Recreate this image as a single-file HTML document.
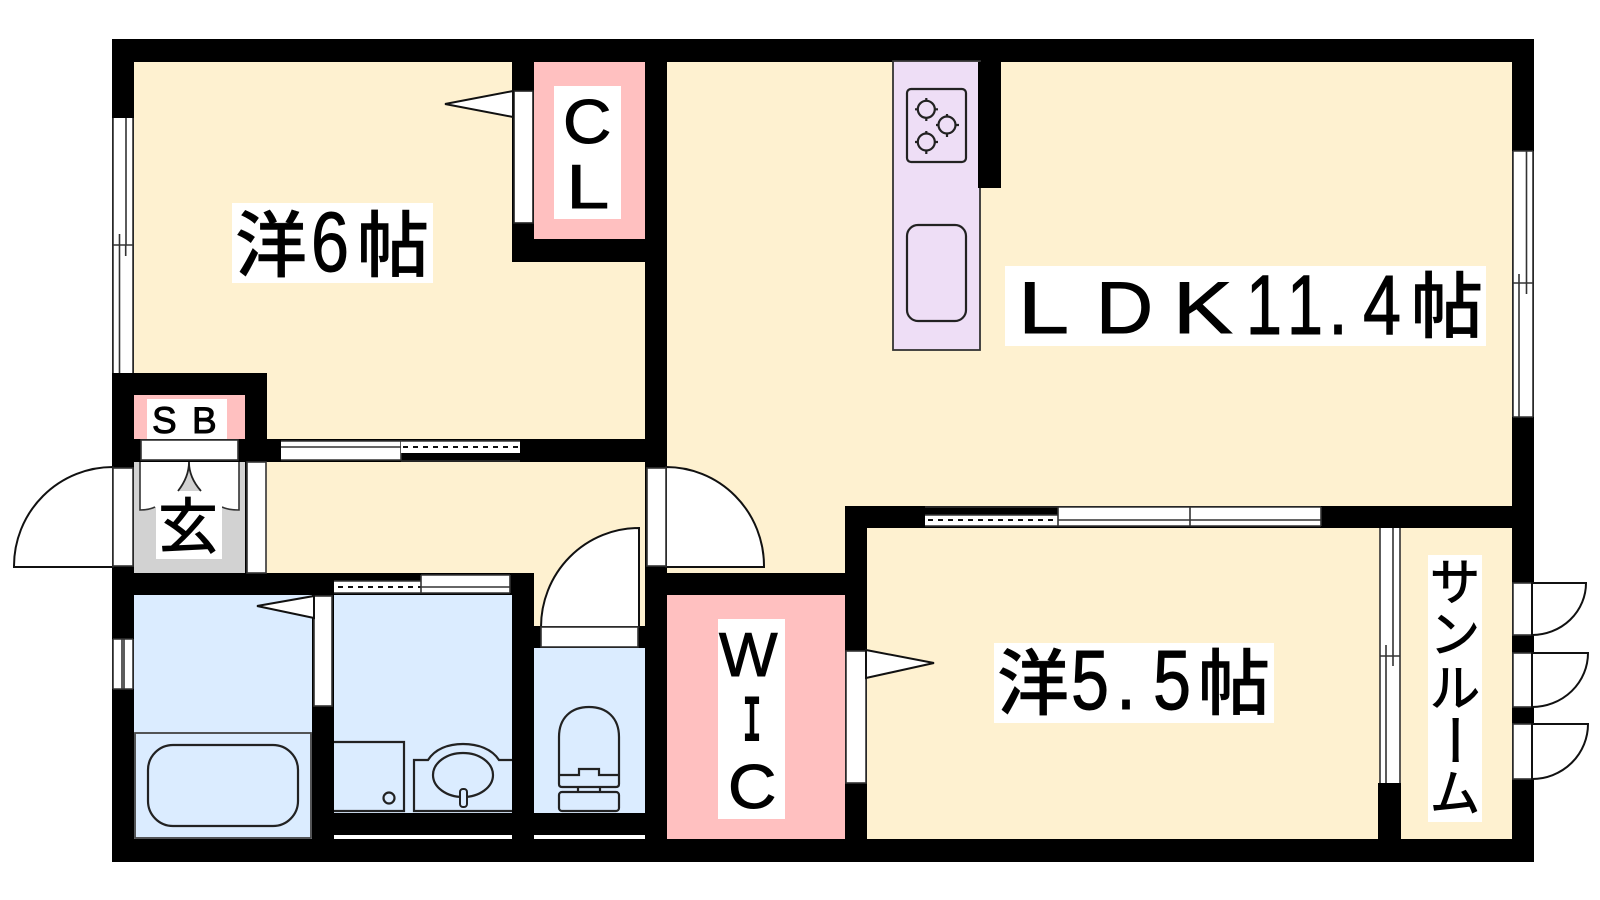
<!DOCTYPE html>
<html lang="ja"><head><meta charset="utf-8"><title>間取り図</title>
<style>
html,body{margin:0;padding:0;background:#fff}
svg{display:block}
.j{font-family:"Liberation Sans","Noto Sans CJK JP",sans-serif;font-weight:500;fill:#000;stroke:#000;stroke-width:.4px}
.k{font-family:"Liberation Sans","Noto Sans CJK JP",sans-serif;font-weight:400;fill:#000;stroke:#000;stroke-width:1px}
.l{font-family:"Liberation Sans",sans-serif;fill:#000;stroke:#000;stroke-width:1px}
.w{fill:#fff;stroke:none}
.ln{stroke:#333;stroke-width:1.6;fill:none}
.d{stroke:#111;stroke-width:2;fill:#fff}
.f{stroke:#222;stroke-width:2.2;fill:none}
</style></head><body>
<svg width="1600" height="900" viewBox="0 0 1600 900" xmlns="http://www.w3.org/2000/svg">
<rect width="1600" height="900" fill="#fff"/>
<rect x="112" y="39" width="1422" height="823" fill="#000"/>

<!-- rooms -->
<g fill="#fef1d0">
<polygon points="134,62 512,62 512,262 645,262 645,439 267,439 267,373 134,373"/>
<polygon points="667,62 1512,62 1512,506 845,506 845,573 667,573"/>
<polygon points="266,462 645,462 645,626 534,626 534,573 266,573"/>
<rect x="867" y="528" width="645" height="311"/>
</g>
<rect x="1378" y="783" width="23" height="60" fill="#000"/>
<g fill="#ffc0c0">
<rect x="534" y="62" width="111" height="177"/>
<rect x="134" y="395" width="111" height="44"/>
<rect x="667" y="595" width="178" height="244"/>
</g>
<g fill="#dbecff">
<rect x="134" y="595" width="178" height="244"/>
<rect x="334" y="595" width="178" height="218"/>
<rect x="534" y="648" width="111" height="165"/>
</g>
<rect x="134" y="462" width="111" height="111" fill="#d2d2d2"/>
<rect x="334" y="835" width="178" height="4" fill="#fff"/>
<rect x="534" y="835" width="111" height="4" fill="#fff"/>

<!-- kitchen -->
<rect x="893" y="61" width="87" height="289" fill="#eedef6" stroke="#333" stroke-width="1.8"/>
<rect x="978" y="62" width="23" height="126" fill="#000"/>
<rect x="907" y="89" width="59" height="73" rx="4" class="f"/>
<g class="f">
<circle cx="926.3" cy="109.3" r="8.5"/><path d="M926.3 98v23M915 109.3h23" stroke-dasharray="3 17"/>
<circle cx="947" cy="125" r="8.5"/><path d="M947 114v23M936 125h23" stroke-dasharray="3 17"/>
<circle cx="926.3" cy="142" r="8.5"/><path d="M926.3 131v23M915 142h23" stroke-dasharray="3 17"/>
</g>
<rect x="907" y="225" width="59" height="96" rx="11" class="f"/>

<!-- left window 6 -->
<rect x="113" y="118" width="20" height="255" fill="#fff"/>
<path class="ln" d="M113 118V373M133 118V373M126 118V245M119.5 245V373M113 245H133M119.5 234V245M125.7 245V256"/>
<!-- CL door -->
<rect x="514" y="91" width="19" height="132" fill="#fff" stroke="#222" stroke-width="1.6"/>
<polygon points="445,104 513,91 513,117" class="d"/>

<!-- SB door -->
<rect x="141" y="440" width="97" height="20" fill="#fff" stroke="#333" stroke-width="1.6"/>
<!-- hall window -->
<rect x="281" y="441" width="120" height="19" fill="#fff"/>
<path class="ln" d="M281 441H401M281 447H401M281 460H401M401 440V460"/>
<rect x="401" y="441" width="119" height="12" fill="#fff"/>
<path class="ln" d="M401 441H520"/>
<path d="M403 447H520" stroke="#111" stroke-width="2" stroke-dasharray="5 5"/>
<path class="ln" d="M401 461H520" stroke-width="1"/>

<!-- genkan shoebox -->
<path d="M140 462H239V510C232 509 226 508 222 507H156C152 508 147 510 140 510Z" fill="#fff"/>
<path class="ln" d="M140 462V510C147 510 151 509 155 507M239 462V510C232 510 226 509 222 507"/>
<path d="M178 491H201C193 482 189 472 189 462C189 472 185 482 178 491Z" fill="#d2d2d2"/>
<path d="M178 491C185 482 189 472 189 462C189 472 193 482 201 491" stroke="#222" stroke-width="1.8" fill="none"/>
<rect x="247" y="462" width="19" height="111" fill="#fff" stroke="#333" stroke-width="1.6"/>

<!-- entry door -->
<path d="M113 467A99 99 0 0 0 14 566V567H113Z" class="d"/>
<rect x="113" y="468" width="20" height="98" fill="#fff" stroke="#333" stroke-width="1.6"/>
<!-- LDK door -->
<path d="M666 467A98 99 0 0 1 764 566V567H666Z" class="d"/>
<rect x="647" y="468" width="19" height="98" fill="#fff" stroke="#333" stroke-width="1.6"/>
<!-- toilet door -->
<path d="M639 528A98 99 0 0 0 541 627H639Z" class="d"/>
<rect x="541" y="627" width="97" height="20" fill="#fff" stroke="#333" stroke-width="1.6"/>

<!-- bath -->
<rect x="135" y="733" width="176" height="105" fill="none" stroke="#444" stroke-width="1.8"/>
<rect x="148" y="745" width="150" height="81" rx="25" class="f"/>
<rect x="314" y="596" width="18" height="110" fill="#fff" stroke="#333" stroke-width="1.6"/>
<polygon points="257,606 314,596 314,618" class="d"/>
<rect x="113" y="639" width="20" height="50" fill="#fff"/>
<path class="ln" d="M113 639V689M133 639V689M122 639V689M124 639V689M113 639H133M113 689H133"/>
<!-- wash window -->
<rect x="334" y="581" width="87" height="12" fill="#fff"/>
<path class="ln" d="M334 593H421M334 581H421"/>
<path d="M338 587H421" stroke="#111" stroke-width="2" stroke-dasharray="5 5"/>
<rect x="421" y="575" width="89" height="18" fill="#fff"/>
<path class="ln" d="M421 575H510M421 587H510M421 593H510M510 575V593M421 575V593"/>
<!-- washer pan -->
<path class="f" d="M334 742H404V811H334"/>
<circle cx="389" cy="798" r="5.5" class="f"/>
<!-- basin -->
<path class="f" d="M512 760H499C492 749 478 744 463 744C448 744 435 749 428 760H414V811H512"/>
<ellipse cx="463" cy="775" rx="30" ry="22" class="f"/>
<rect x="460" y="789" width="7" height="18" rx="3" fill="#dbecff" stroke="#222" stroke-width="2"/>
<!-- toilet -->
<path class="f" d="M559 737C559 718 571 707 589 707C607 707 619 718 619 737V784Q619 787 616 787H562Q559 787 559 784Z"/>
<path class="f" d="M559 775H579V769H599V775H619"/>
<path class="f" d="M578 787V792M600 787V792"/>
<rect x="559" y="792" width="60" height="19" rx="3" class="f"/>

<!-- WIC door -->
<rect x="846" y="651" width="20" height="132" fill="#fff" stroke="#333" stroke-width="1.6"/>
<polygon points="934,663 866,650 866,678" class="d"/>
<!-- LDK/5.5 window -->
<rect x="925" y="515" width="133" height="11" fill="#fff"/>
<path class="ln" d="M925 507H1058M925 515H1058M925 526H1058"/>
<path d="M928 520H1058" stroke="#111" stroke-width="2" stroke-dasharray="5 5"/>
<rect x="1058" y="507" width="263" height="19" fill="#fff"/>
<path class="ln" d="M1058 507H1321M1058 520H1321M1058 526H1321M1058 507V526M1190 507V526M1321 507V526"/>
<!-- LDK right window -->
<rect x="1513" y="151" width="20" height="266" fill="#fff"/>
<path class="ln" d="M1513 151V417M1533 151V417M1526.5 151V283M1519 283V417M1513 283H1533M1519 274V283M1526.5 283V294M1513 151H1533M1513 417H1533"/>
<!-- sunroom window -->
<rect x="1380" y="528" width="20" height="255" fill="#fff"/>
<path class="ln" d="M1380 528V783M1400 528V783M1393 528V656M1386 656V783M1380 656H1400M1386 645V656M1393 656V666"/>
<!-- sunroom doors -->
<g>
<rect x="1513" y="583" width="19" height="52" fill="#fff" stroke="#333" stroke-width="1.6"/>
<path d="M1532 583H1586A54 52 0 0 1 1532 635Z" class="d"/>
<rect x="1513" y="653" width="19" height="54" fill="#fff" stroke="#333" stroke-width="1.6"/>
<path d="M1532 653H1588A56 54 0 0 1 1532 707Z" class="d"/>
<rect x="1513" y="724" width="19" height="55" fill="#fff" stroke="#333" stroke-width="1.6"/>
<path d="M1532 724H1588A56 55 0 0 1 1532 779Z" class="d"/>
</g>

<!-- label backgrounds -->
<rect class="w" x="232" y="203" width="201" height="80"/>
<rect class="w" x="554" y="86" width="67" height="133"/>
<rect class="w" x="1005" y="266" width="481" height="80"/>
<rect class="w" x="147" y="399" width="80" height="40"/>
<rect class="w" x="156" y="495" width="66" height="64"/>
<rect class="w" x="718" y="619" width="67" height="200"/>
<rect class="w" x="994" y="643" width="280" height="80"/>
<rect class="w" x="1428" y="555" width="54" height="267"/>

<!-- labels -->
<text class="j" x="235" y="271" font-size="72">洋</text>
<text class="l" x="311" y="271" font-size="84" textLength="38" lengthAdjust="spacingAndGlyphs">6</text>
<text class="j" x="357" y="271" font-size="72">帖</text>

<text class="l" x="563" y="143" font-size="62" textLength="48.4" lengthAdjust="spacingAndGlyphs">C</text>
<text class="l" x="566.4" y="208" font-size="62" textLength="42.8" lengthAdjust="spacingAndGlyphs">L</text>

<text class="l" x="1018" y="333" font-size="73" textLength="51" lengthAdjust="spacingAndGlyphs">L</text>
<text class="l" x="1096" y="333" font-size="73" textLength="57" lengthAdjust="spacingAndGlyphs">D</text>
<text class="l" x="1173" y="333" font-size="73" textLength="59.6" lengthAdjust="spacingAndGlyphs">K</text>
<text class="l" x="1246" y="334" font-size="84" textLength="36" lengthAdjust="spacingAndGlyphs">1</text>
<text class="l" x="1287" y="334" font-size="84" textLength="36" lengthAdjust="spacingAndGlyphs">1</text>
<text class="l" x="1328" y="334" font-size="84" textLength="20" lengthAdjust="spacingAndGlyphs">.</text>
<text class="l" x="1363" y="334" font-size="84" textLength="38" lengthAdjust="spacingAndGlyphs">4</text>
<text class="j" x="1411" y="332" font-size="72">帖</text>

<text class="l" x="152" y="433" font-size="37">S</text>
<text class="l" x="192" y="433" font-size="37">B</text>
<text class="k" x="158" y="548" font-size="60">玄</text>

<text class="l" x="719" y="676" font-size="62">W</text>
<text x="742.5" y="741" font-size="68" textLength="19" lengthAdjust="spacingAndGlyphs" style="font-family:'Liberation Mono',monospace;font-weight:700">I</text>
<text class="l" x="728" y="808" font-size="62" textLength="48.4" lengthAdjust="spacingAndGlyphs">C</text>

<text class="j" x="997" y="709" font-size="72">洋</text>
<text class="l" x="1071" y="709" font-size="84" textLength="38" lengthAdjust="spacingAndGlyphs">5</text>
<text class="l" x="1116" y="709" font-size="84" textLength="20" lengthAdjust="spacingAndGlyphs">.</text>
<text class="l" x="1153" y="709" font-size="84" textLength="38" lengthAdjust="spacingAndGlyphs">5</text>
<text class="j" x="1198" y="709" font-size="72">帖</text>

<text class="k" x="1430" y="600" font-size="50">サ</text>
<text class="k" x="1430" y="652" font-size="50">ン</text>
<text class="k" x="1430" y="706" font-size="50">ル</text>
<text class="k" transform="translate(1455 740) rotate(90)" x="-27" y="20" font-size="54">ー</text>
<text class="k" x="1430" y="811" font-size="50">ム</text>
</svg>
</body></html>
